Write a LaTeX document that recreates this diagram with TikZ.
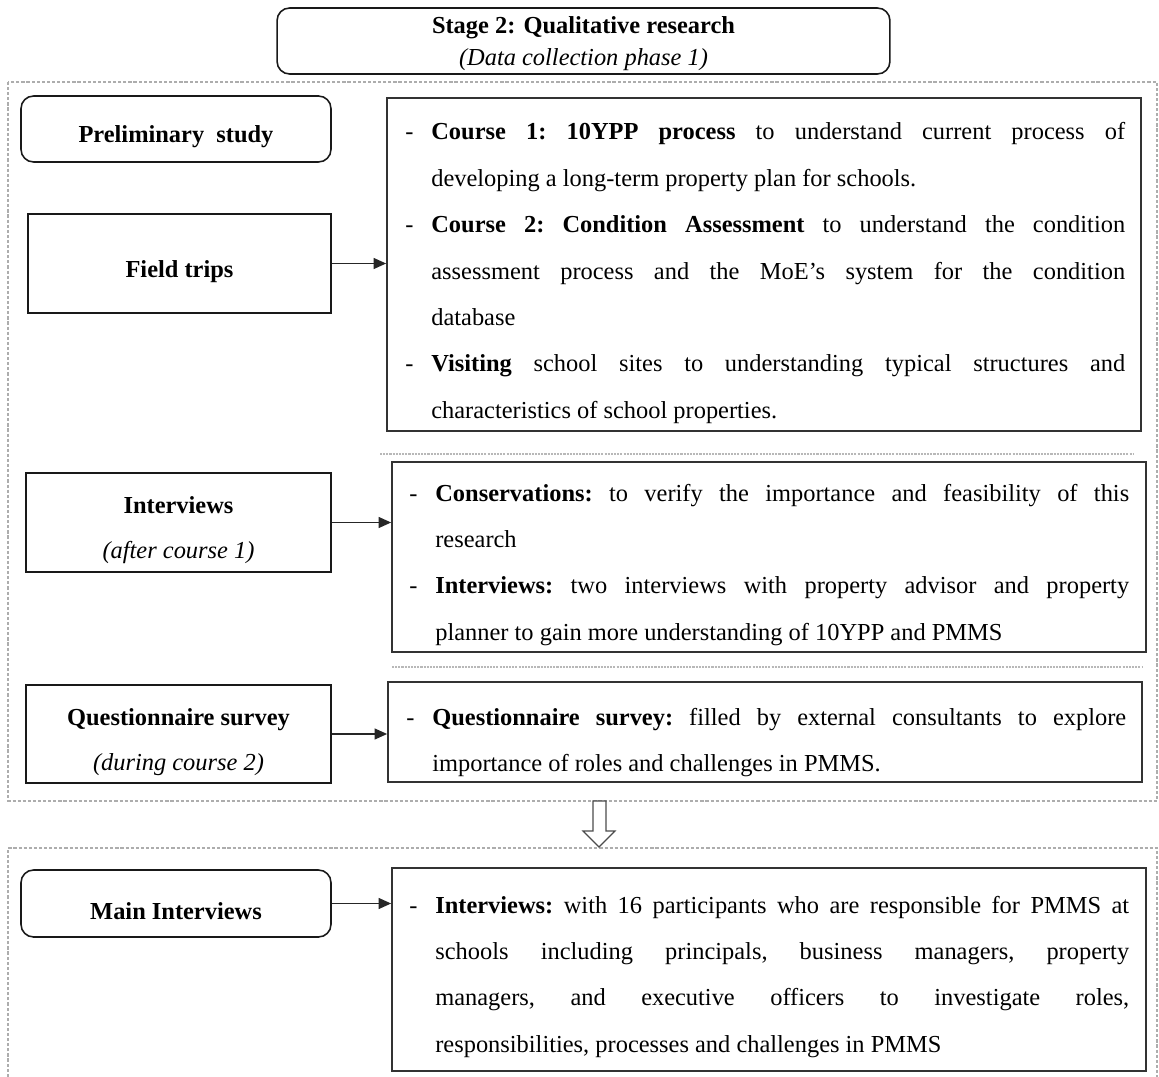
\documentclass[tikz,border=0pt]{standalone}
\usepackage{fontspec}
\setmainfont{Liberation Serif}
\usetikzlibrary{arrows.meta}

% text setting for the right-hand description boxes
\newcommand\rtext{\fontsize{13.9pt}{26.4pt}\selectfont\frenchspacing\parskip=0pt\tolerance=10000\hbadness=10000\emergencystretch=0pt}
\newcommand\ditem[1]{\hangindent=0.52cm\hangafter=1\noindent\makebox[0.52cm][l]{-}#1\par}
% extra room above the first line of the left-hand labels
\newcommand\lstrut{\vrule height 18.5pt depth 0pt width 0pt}

\begin{document}
\begin{tikzpicture}[x=0.02cm,y=-0.02cm,
  lbox/.style={draw=black!90, line width=0.9pt, align=center, inner sep=0pt,
    font=\fontsize{13.9pt}{25.5pt}\selectfont\frenchspacing},
  rlbox/.style={lbox, rounded corners=0.25cm},
  rbox/.style={draw=black!80, line width=1.1pt, inner sep=0pt, minimum width=15.08cm},
  rtxt/.style={anchor=base west, text width=14.4cm, inner sep=0pt, align=justify, font=\rtext},
  link/.style={draw=black!85, line width=0.7pt, -{Triangle[length=0.25cm,width=0.22cm]}},
  frame/.style={draw=black!32, line width=0.6pt, dash pattern=on 1.8pt off 1.1pt},
  sep/.style={draw=black!28, line width=0.7pt, dash pattern=on 1.2pt off 0.6pt}]
\useasboundingbox (0,0) rectangle (1159,1077);

% dashed frames of the two phases
\draw[frame] (8,82) rectangle (1157,801);
\draw[frame] (8,1082) -- (8,848) -- (1157,848) -- (1157,1082);

% title
\node[rlbox, minimum width=12.26cm, minimum height=1.32cm,
  font=\fontsize{13.9pt}{18.1pt}\selectfont] (top) at (583.5,41)
  {\vrule height 12.7pt depth 0pt width 0pt\textbf{Stage 2: Qualitative research}\\ \textit{(Data collection phase 1)}};

% left column
\node[rlbox, minimum width=6.2cm, minimum height=1.32cm] (prelim) at (176,129)
  {\lstrut\textbf{Preliminary\ \ study}};
\node[lbox, minimum width=6.06cm, minimum height=1.98cm] (field) at (179.5,263.5)
  {\lstrut\textbf{Field trips}};
\node[lbox, minimum width=6.1cm, minimum height=1.98cm] (interv) at (178.5,522.5)
  {\lstrut\textbf{Interviews}\\ \textit{(after course 1)}};
\node[lbox, minimum width=6.1cm, minimum height=1.96cm] (quest) at (178.5,734)
  {\lstrut\textbf{Questionnaire survey}\\ \textit{(during course 2)}};
\node[rlbox, minimum width=6.2cm, minimum height=1.34cm] (mainint) at (176,903.5)
  {\lstrut\textbf{Main Interviews}};

% right column: frames
\node[rbox, minimum height=6.66cm] (r1) at (764,264.5) {};
\node[rbox, minimum height=3.8cm] (r2) at (769,557) {};
\node[rbox, minimum height=2.0cm] (r3) at (765,732) {};
\node[rbox, minimum height=4.06cm] (r4) at (769,969.5) {};

% right column: descriptions
\node[rtxt] (t1) at (405,140) {%
  \ditem{\textbf{Course 1: 10YPP process} to understand current process of \linebreak
    developing a long-term property plan for schools.}%
  \ditem{\textbf{Course 2: Condition Assessment} to understand the condition \linebreak
    assessment process and the MoE’s system for the condition \linebreak database}%
  \ditem{\textbf{Visiting} school sites to understanding typical structures and \linebreak
    characteristics of school properties.}};
\node[rtxt] (t2) at (409,501) {%
  \ditem{\textbf{Conservations:} to verify the importance and feasibility of this \linebreak
    research}%
  \ditem{\textbf{Interviews:} two interviews with property advisor and property \linebreak
    planner to gain more understanding of 10YPP and PMMS}};
\node[rtxt] (t3) at (406,725) {%
  \ditem{\textbf{Questionnaire survey:} filled by external consultants to explore \linebreak
    importance of roles and challenges in PMMS.}};
\node[rtxt] (t4) at (409,913) {%
  \ditem{\textbf{Interviews:} with 16 participants who are responsible for PMMS at \linebreak
    schools including principals, business managers, property \linebreak
    managers, and executive officers to investigate roles, \linebreak
    responsibilities, processes and challenges in PMMS}};

% dashed separators between the groups
\draw[sep] (380,454) -- (1133,454);
\draw[sep] (392,667) -- (1142,667);

% connectors
\draw[link] (field.east) -- (field.east -| r1.west);
\draw[link] (interv.east) -- (interv.east -| r2.west);
\draw[link] (quest.east) -- (quest.east -| r3.west);
\draw[link] (mainint.east) -- (mainint.east -| r4.west);

% hollow block arrow between the phases
\draw[draw=black!70, line width=0.7pt, fill=white, line join=miter]
  (593,801) -- (606,801) -- (606,831) -- (615,831) -- (599,847)
  -- (583,831) -- (593,831) -- cycle;
\end{tikzpicture}
\end{document}
